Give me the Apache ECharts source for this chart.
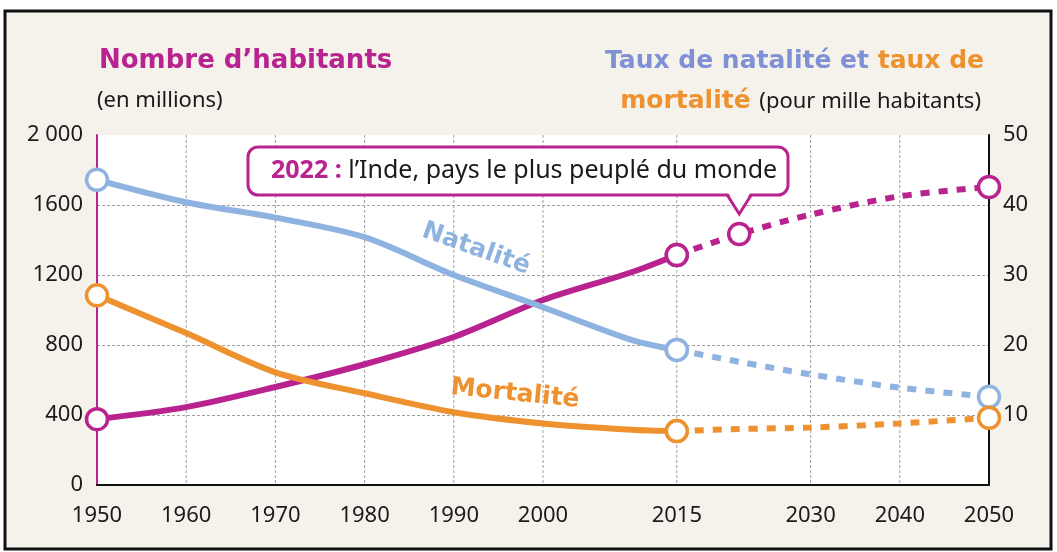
<!DOCTYPE html>
<html>
<head>
<meta charset="utf-8">
<script src="https://cdn.jsdelivr.net/npm/echarts@6/dist/echarts.min.js"></script>
<style>
  html, body { margin: 0; padding: 0; background: #fff; }
  #chart { width: 1057px; height: 552px; }
</style>
</head>
<body>
<div id="chart"></div>
<script>
// Inde : valeurs
const years = [1950, 1960, 1970, 1980, 1990, 2000, 2010, 2015];
const population = [376, 445, 560, 690, 846, 1057, 1217, 1314];
const natalite = [43.6, 40.4, 38.2, 35.4, 30.0, 25.4, 20.7, 19.3];
const mortalite = [27.1, 21.7, 16.1, 13.1, 10.4, 8.8, 7.9, 7.7];

// projections (pointillés)
const projYears = [2015, 2022, 2030, 2040, 2050];
const populationProj = [1314, 1434, 1545, 1650, 1703];
const nataliteProj = [19.3, 17.6, 15.8, 13.9, 12.6];
const mortaliteProj = [7.7, 8.0, 8.2, 8.8, 9.6];

const popMarks = [1950, 2015, 2022, 2050];
const rateMarks = [1950, 2015, 2050];

const xTicks = [1950, 1960, 1970, 1980, 1990, 2000, 2015, 2030, 2040, 2050];
const leftLabels = ['0', '400', '800', '1200', '1600', '2 000'];
const rightLabels = ['', '10', '20', '30', '40', '50'];

const MAGENTA = '#b8238f';
const BLUE = '#8fb3e0';
const ORANGE = '#ee922f';
const GRID = '#a0a0a0';
const FONT = "'Noto Sans', sans-serif";
const BOLD = "'DejaVu Sans', sans-serif";

function line(xs, ys, color, yAxis, dashed, marks) {
  return {
    type: 'line',
    yAxisIndex: yAxis,
    data: xs.map((x, i) => [x, ys[i]]),
    smooth: 0.3,
    symbol: function (v) { return marks.indexOf(v[0]) >= 0 ? 'circle' : 'none'; },
    symbolSize: 21,
    itemStyle: { color: '#fff', borderColor: color, borderWidth: 3.5 },
    lineStyle: { color: color, width: 6, type: dashed ? [9, 9] : 'solid' },
    emphasis: { disabled: true },
    z: dashed ? 3 : 2
  };
}

let myChart = echarts.init(document.getElementById('chart'));

myChart.setOption({
  animation: false,
  backgroundColor: '#fff',
  grid: { left: 97, right: 68, top: 135, bottom: 67, show: true, backgroundColor: '#fff', borderWidth: 0 },
  xAxis: {
    type: 'value',
    min: 1950,
    max: 2050,
    axisLine: { lineStyle: { color: '#111', width: 2 } },
    axisTick: { show: false, customValues: xTicks },
    axisLabel: {
      customValues: xTicks, color: '#1a1a1a', fontSize: 22, fontFamily: FONT, margin: 20,
      formatter: v => String(v)
    },
    splitLine: { show: false }
  },
  yAxis: [
    {
      type: 'value',
      min: 0,
      max: 2000,
      interval: 400,
      axisLine: { show: true, lineStyle: { color: MAGENTA, width: 2 } },
      axisTick: { show: false },
      axisLabel: {
        color: '#1a1a1a', fontSize: 22, fontFamily: FONT, margin: 14,
        formatter: v => leftLabels[v / 400]
      },
      splitLine: { show: true, showMaxLine: false, lineStyle: { color: GRID, width: 1, type: [3, 2] } }
    },
    {
      type: 'value',
      min: 0,
      max: 50,
      interval: 10,
      position: 'right',
      axisLine: { show: true, lineStyle: { color: '#111', width: 2 } },
      axisTick: { show: false },
      axisLabel: {
        color: '#1a1a1a', fontSize: 22, fontFamily: FONT, margin: 14,
        formatter: v => rightLabels[v / 10]
      },
      splitLine: { show: false }
    }
  ],
  series: [
    {
      // lignes verticales du quadrillage, aux années repères seulement
      type: 'custom',
      silent: true,
      z: 1,
      data: xTicks.slice(1, -1).map(v => [v, 0]),
      renderItem: function (params, api) {
        const x = api.value(0);
        const top = api.coord([x, 2000]);
        const bottom = api.coord([x, 0]);
        return {
          type: 'line',
          shape: { x1: top[0], y1: top[1], x2: bottom[0], y2: bottom[1] },
          style: { stroke: GRID, lineWidth: 1, lineDash: [3, 2] }
        };
      }
    },
    line(years, population, MAGENTA, 0, false, popMarks),
    line(projYears, populationProj, MAGENTA, 0, true, popMarks),
    line(years, natalite, BLUE, 1, false, rateMarks),
    line(projYears, nataliteProj, BLUE, 1, true, rateMarks),
    line(years, mortalite, ORANGE, 1, false, rateMarks),
    line(projYears, mortaliteProj, ORANGE, 1, true, rateMarks)
  ]
});

// bulle 2022 : pointe placée sur le point de donnée
const p2022 = myChart.convertToPixel({ gridIndex: 0 }, [projYears[1], populationProj[1]]);
const tipX = p2022[0];
const tipY = p2022[1] - 20;
const boxBottom = 195;

myChart.setOption({
  graphic: [
    {
      type: 'rect', z: -10, silent: true,
      shape: { x: 5, y: 11, width: 1046, height: 538 },
      style: { fill: '#f5f2eb', stroke: '#111', lineWidth: 3 }
    },
    {
      type: 'text', left: 99, top: 48,
      style: { text: 'Nombre d’habitants', fill: MAGENTA, font: "bold 26px " + BOLD }
    },
    {
      type: 'text', left: 97, top: 90,
      style: { text: '(en millions)', fill: '#1a1a1a', font: "22px " + FONT }
    },
    {
      type: 'text', right: 73, top: 49,
      style: {
        text: '{b|Taux de natalité et }{o|taux de}',
        rich: {
          b: { fill: '#7f90d6', font: "bold 25px " + BOLD },
          o: { fill: ORANGE, font: "bold 25px " + BOLD }
        }
      }
    },
    {
      type: 'text', right: 76, top: 89,
      style: {
        text: '{o|mortalité }{n|(pour mille habitants)}',
        rich: {
          o: { fill: ORANGE, font: "bold 25px " + BOLD },
          n: { fill: '#1a1a1a', font: "22px " + FONT }
        }
      }
    },
    {
      type: 'text', x: 476, y: 249, rotation: -0.34,
      style: { text: 'Natalité', fill: BLUE, font: "bold 25px " + BOLD, align: 'center', verticalAlign: 'middle' }
    },
    {
      type: 'text', x: 515, y: 394, rotation: -0.1,
      style: { text: 'Mortalité', fill: ORANGE, font: "bold 25px " + BOLD, align: 'center', verticalAlign: 'middle' }
    },
    {
      type: 'rect', z: 100,
      shape: { x: 248, y: 147, width: 540, height: boxBottom - 147, r: 10 },
      style: { fill: '#fff', stroke: MAGENTA, lineWidth: 3 }
    },
    {
      type: 'polygon', z: 101,
      shape: { points: [[tipX - 11, boxBottom - 2], [tipX, tipY - 3], [tipX + 11, boxBottom - 2]] },
      style: { fill: '#fff' }
    },
    {
      type: 'polyline', z: 101,
      shape: { points: [[tipX - 12, boxBottom], [tipX, tipY], [tipX + 12, boxBottom]] },
      style: { stroke: MAGENTA, lineWidth: 3, fill: null }
    },
    {
      type: 'text', z: 102, x: 271, y: 171,
      style: {
        text: '{y|2022 : }{t|l’Inde, pays le plus peuplé du monde}',
        verticalAlign: 'middle',
        rich: {
          y: { fill: MAGENTA, font: "bold 25px " + FONT },
          t: { fill: '#1a1a1a', font: "25px " + FONT }
        }
      }
    }
  ]
});
</script>
</body>
</html>
